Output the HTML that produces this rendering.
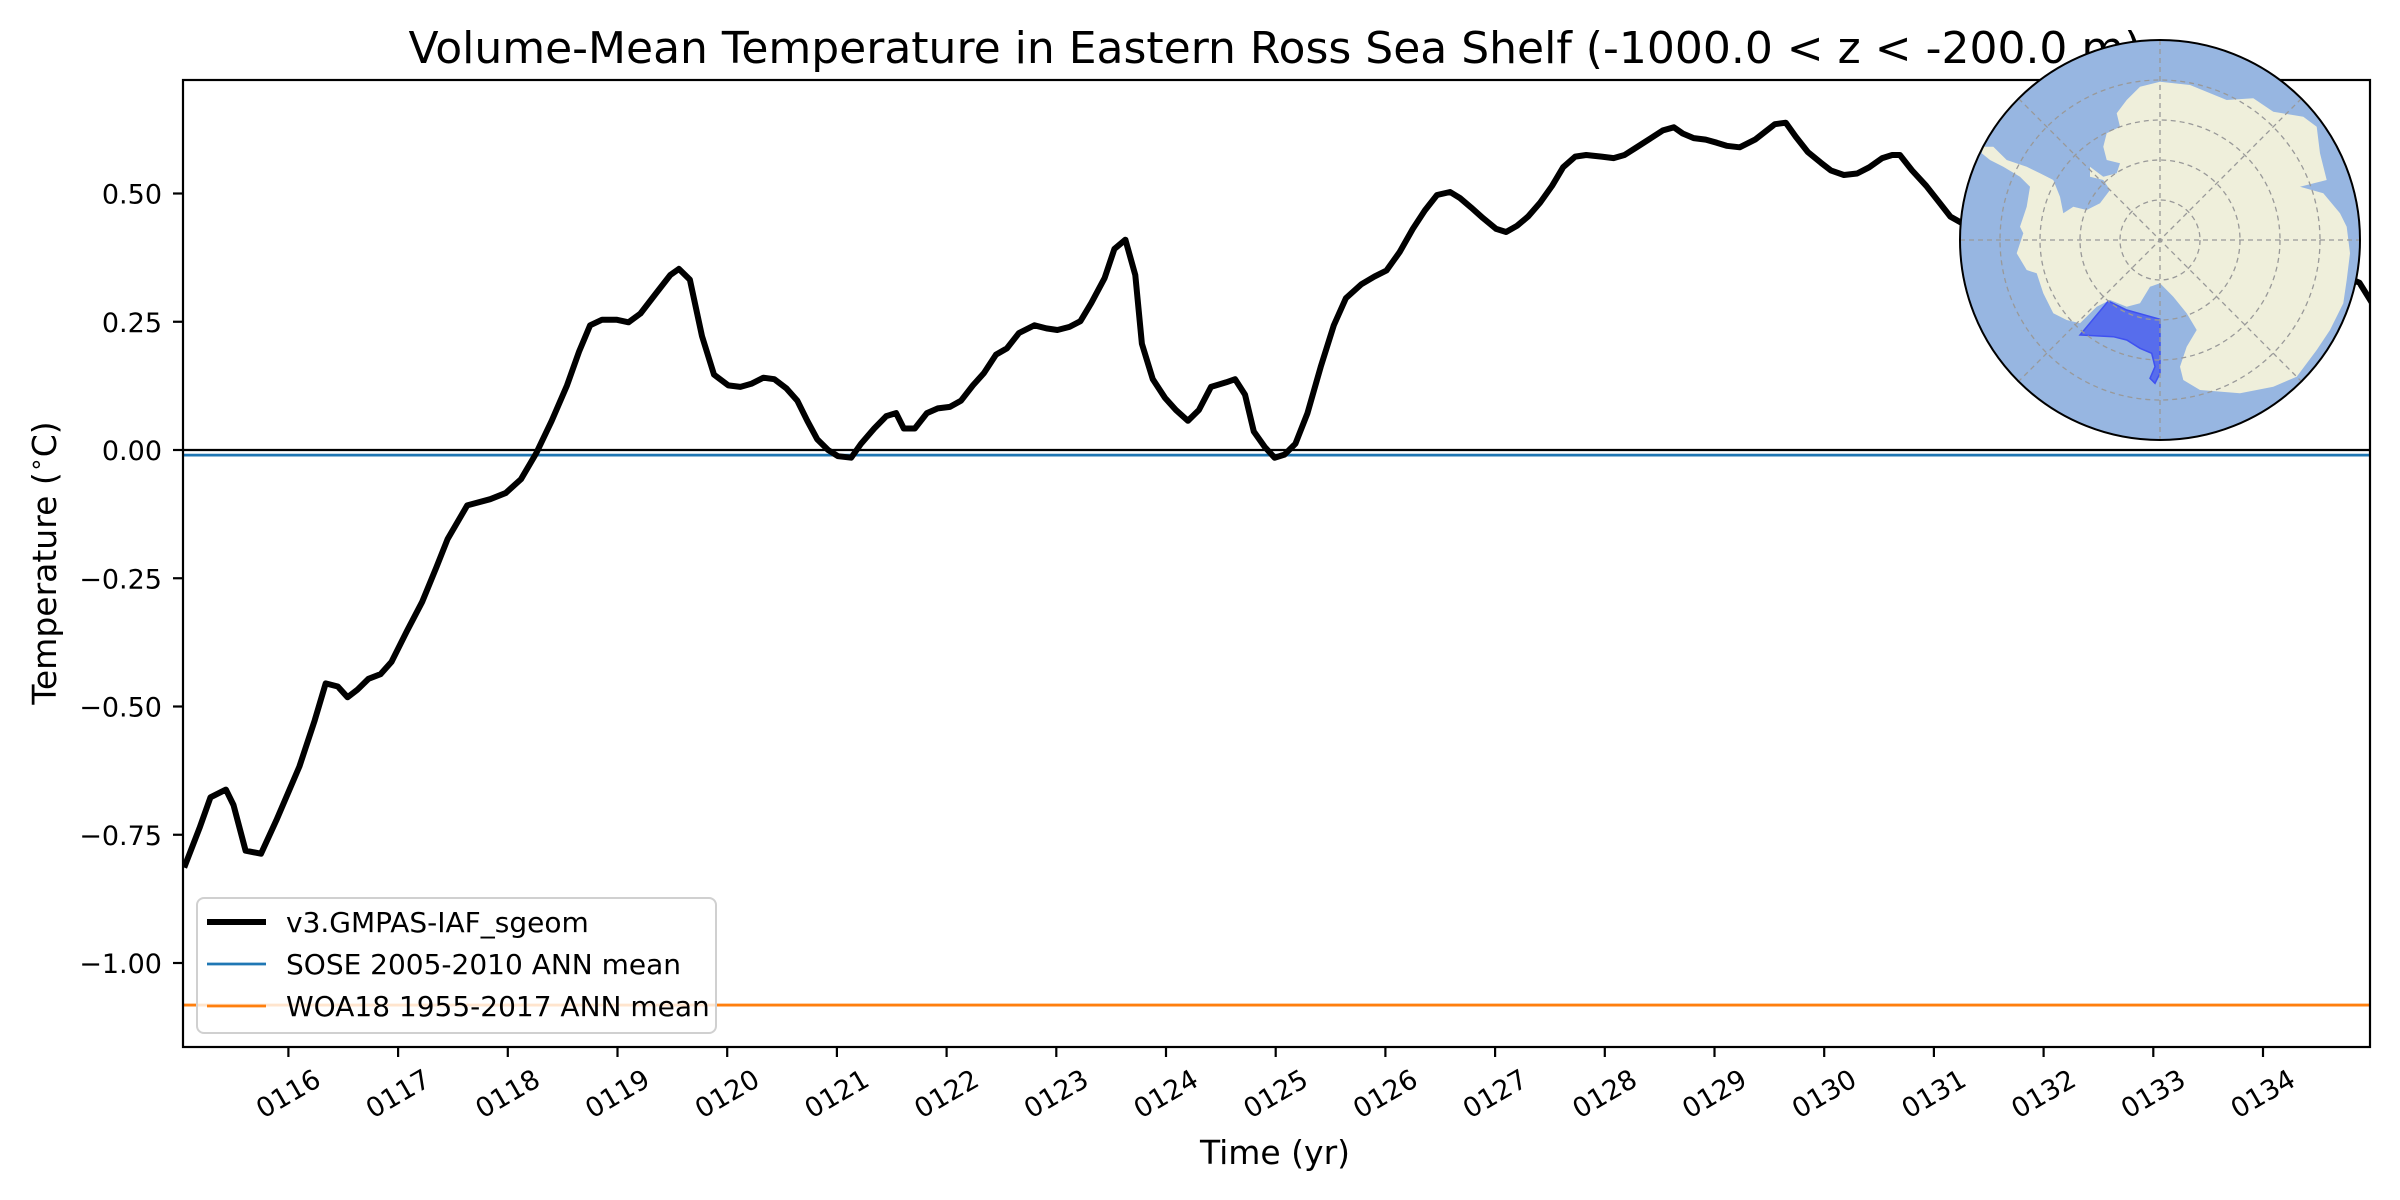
<!DOCTYPE html>
<html><head><meta charset="utf-8"><style>
html,body{margin:0;padding:0;background:#fff;}
svg{display:block;font-family:"DejaVu Sans","Liberation Sans",sans-serif;}
</style></head><body>
<svg id="chart" width="2400" height="1200" viewBox="0 0 2400 1200" xmlns="http://www.w3.org/2000/svg">
<rect x="0" y="0" width="2400" height="1200" fill="#fff"/>
<text x="1275" y="63" font-size="44" text-anchor="middle">Volume-Mean Temperature in Eastern Ross Sea Shelf (-1000.0 &lt; z &lt; -200.0 m)</text>
<g id="plot"></g>
<text x="1275" y="1164" font-size="33" text-anchor="middle">Time (yr)</text>
<text transform="translate(56,563) rotate(-90)" font-size="33" text-anchor="middle">Temperature (<tspan dy="-12" font-size="24">∘</tspan><tspan dy="12">C)</tspan></text>
</svg>
<script>
const years = [115.05,115.19,115.29,115.43,115.50,115.61,115.75,115.89,116.10,116.24,116.34,116.45,116.54,116.63,116.73,116.84,116.94,117.08,117.22,117.35,117.45,117.63,117.84,117.98,118.12,118.26,118.40,118.54,118.65,118.75,118.86,118.99,119.10,119.21,119.35,119.48,119.56,119.66,119.77,119.88,120.01,120.12,120.22,120.33,120.43,120.54,120.64,120.73,120.82,120.92,121.01,121.13,121.22,121.34,121.45,121.54,121.61,121.71,121.82,121.92,122.03,122.13,122.24,122.34,122.45,122.55,122.66,122.80,122.91,123.01,123.12,123.22,123.32,123.44,123.53,123.63,123.72,123.78,123.88,123.99,124.09,124.20,124.30,124.41,124.55,124.63,124.72,124.80,124.90,124.99,125.08,125.18,125.29,125.41,125.53,125.64,125.78,125.90,126.01,126.13,126.25,126.36,126.47,126.59,126.68,126.78,126.89,127.01,127.10,127.20,127.30,127.41,127.52,127.62,127.73,127.83,127.97,128.08,128.18,128.29,128.42,128.53,128.63,128.71,128.81,128.92,129.02,129.11,129.23,129.37,129.46,129.55,129.65,129.74,129.85,129.97,130.06,130.18,130.30,130.41,130.53,130.62,130.69,130.80,130.93,131.04,131.15,131.25,131.5,132.0,132.5,133.0,133.5,134.0,134.4,134.88,134.99];
const temps = [-0.814,-0.737,-0.677,-0.662,-0.692,-0.781,-0.787,-0.722,-0.617,-0.527,-0.455,-0.461,-0.482,-0.467,-0.446,-0.437,-0.413,-0.353,-0.296,-0.228,-0.174,-0.108,-0.096,-0.084,-0.057,-0.006,0.057,0.126,0.192,0.243,0.254,0.254,0.249,0.266,0.305,0.341,0.353,0.332,0.222,0.147,0.126,0.123,0.129,0.141,0.138,0.120,0.096,0.057,0.021,0.000,-0.012,-0.015,0.012,0.042,0.066,0.072,0.042,0.042,0.072,0.081,0.084,0.096,0.126,0.150,0.186,0.198,0.228,0.243,0.237,0.234,0.240,0.251,0.287,0.335,0.392,0.410,0.341,0.207,0.138,0.102,0.078,0.057,0.078,0.123,0.132,0.138,0.108,0.036,0.006,-0.015,-0.009,0.012,0.072,0.162,0.243,0.296,0.323,0.338,0.350,0.386,0.431,0.467,0.497,0.503,0.491,0.473,0.452,0.431,0.425,0.437,0.455,0.482,0.515,0.551,0.572,0.575,0.572,0.569,0.575,0.590,0.608,0.623,0.629,0.617,0.608,0.605,0.599,0.593,0.590,0.605,0.620,0.635,0.638,0.611,0.581,0.560,0.545,0.536,0.539,0.551,0.569,0.575,0.575,0.545,0.515,0.485,0.455,0.443,0.42,0.40,0.45,0.42,0.44,0.41,0.37,0.326,0.288];
const xTickYears = [116,117,118,119,120,121,122,123,124,125,126,127,128,129,130,131,132,133,134];
const xTickLabels = ["0116","0117","0118","0119","0120","0121","0122","0123","0124","0125","0126","0127","0128","0129","0130","0131","0132","0133","0134"];
const yTickValues = [0.5,0.25,0,-0.25,-0.5,-0.75,-1.0];
const yTickLabels = ["0.50","0.25","0.00","\u22120.25","\u22120.50","\u22120.75","\u22121.00"];
const soseMean = [-0.01];
const woaMean = [-1.082];
const zeroLine = [0];

const L=183, R=2370, T=80, B=1047;
const X = y => 1275.7 + (y-125)*109.7;
const Y = v => 450 - v*513;
const NS="http://www.w3.org/2000/svg";
const plot=document.getElementById('plot');
function mk(tag, attrs, parent){const e=document.createElementNS(NS,tag);for(const k in attrs)e.setAttribute(k,attrs[k]);(parent||plot).appendChild(e);return e;}

const defs=mk('defs',{});
const cp=mk('clipPath',{id:'clipAx'},defs);
mk('rect',{x:L,y:T,width:R-L,height:B-T},cp);
const g=mk('g',{'clip-path':'url(#clipAx)'});



const z=mk('line',{x1:L,x2:R,y1:Y(zeroLine[0]),y2:Y(zeroLine[0]),stroke:'#000','stroke-width':2.2},g);


const s=mk('line',{x1:L,x2:R,y1:Y(soseMean[0]),y2:Y(soseMean[0]),stroke:'#1f77b4','stroke-width':2.8},g);


const w=mk('line',{x1:L,x2:R,y1:Y(woaMean[0]),y2:Y(woaMean[0]),stroke:'#ff7f0e','stroke-width':2.8},g);


const pts=years.map((yr,i)=>X(yr).toFixed(1)+','+Y(temps[i]).toFixed(1)).join(' ');
const pl=mk('polyline',{points:pts,fill:'none',stroke:'#000','stroke-width':6,'stroke-linejoin':'round'},g);



// inset map
const mapG=mk('g',{});


const cx=2160, cy=240, r=200;
const mcp=mk('clipPath',{id:'clipMap'},defs);
mk('circle',{cx:cx,cy:cy,r:r},mcp);
mk('circle',{cx:cx,cy:cy,r:r,fill:'#97b6e1'},mapG);
const inner=mk('g',{'clip-path':'url(#clipMap)'},mapG);
const land=[[560,240],[600,200],[660,185],[750,195],[860,240],[940,235],[1000,275],[1090,290],[1130,320],[1140,400],[1160,480],[1080,500],[1150,520],[1200,580],[1220,620],[1230,700],[1220,780],[1210,850],[1170,930],[1130,990],[1070,1070],[1000,1100],[900,1120],[780,1110],[730,1080],[720,1040],[740,980],[770,930],[740,880],[700,830],[660,790],[630,800],[600,850],[560,860],[510,840],[470,860],[420,910],[380,900],[340,880],[310,820],[290,760],[260,750],[230,700],[250,640],[240,620],[260,560],[270,500],[240,470],[190,440],[150,420],[125,400],[130,380],[160,380],[200,420],[260,440],[300,460],[340,480],[360,530],[370,580],[400,560],[440,570],[480,550],[510,510],[490,480],[450,470],[450,440],[490,470],[530,460],[540,430],[500,420],[490,380],[500,340],[540,320],[530,280]];
const toM=p=>(1940+p[0]/3).toFixed(1)+','+(20+p[1]/3).toFixed(1);
mk('polygon',{points:land.map(toM).join(' '),fill:'#efefdb'},inner);
const ross=[[420,945],[505,843],[560,870],[660,898],[660,1060],[645,1090],[630,1075],[645,1040],[635,1000],[600,985],[560,960],[520,950]];
mk('polygon',{points:ross.map(toM).join(' '),fill:'#3f51f0','fill-opacity':0.72,stroke:'#3f51f0','stroke-width':1.5},inner);
for(const rr of [40,80,120,160,200]){mk('circle',{cx:cx,cy:cy,r:rr,fill:'none',stroke:'#999','stroke-width':1.3,'stroke-dasharray':'5,4'},inner);}
for(let a=0;a<180;a+=45){const t=a*Math.PI/180;mk('line',{x1:cx-r*Math.cos(t),y1:cy-r*Math.sin(t),x2:cx+r*Math.cos(t),y2:cy+r*Math.sin(t),stroke:'#999','stroke-width':1.3,'stroke-dasharray':'5,4'},inner);}
mk('circle',{cx:cx,cy:cy,r:r,fill:'none',stroke:'#000','stroke-width':2},mapG);

const fr=mk('rect',{x:L,y:T,width:R-L,height:B-T,fill:'none',stroke:'#000','stroke-width':2.2});


plot.appendChild(mapG);

yTickValues.forEach((v,i)=>{
  const y=Y(v);
  const t=mk('line',{x1:L-10,x2:L,y1:y,y2:y,stroke:'#000','stroke-width':2.2});
  
  
  const tx=mk('text',{x:L-21,y:y+10,'font-size':27,'text-anchor':'end'});
  tx.textContent=yTickLabels[i];
  
  
});
xTickYears.forEach((yr,i)=>{
  const x=X(yr);
  const t=mk('line',{x1:x,x2:x,y1:B,y2:B+10,stroke:'#000','stroke-width':2.2});
  
  
  const tx=mk('text',{x:0,y:0,'font-size':27,'text-anchor':'middle',transform:`translate(${x},${1094}) rotate(-30) translate(0,9)`});
  tx.textContent=xTickLabels[i];
  
  
});

const lg=mk('g',{});


mk('rect',{x:197,y:898,width:519,height:135,rx:7,fill:'#fff','fill-opacity':0.8,stroke:'#d0d0d0','stroke-width':2},lg);
const entries=[['v3.GMPAS-IAF_sgeom','#000',6,'legend-entry-model'],['SOSE 2005-2010 ANN mean','#1f77b4',2.8,'legend-entry-sose'],['WOA18 1955-2017 ANN mean','#ff7f0e',2.8,'legend-entry-woa18']];
entries.forEach((e,i)=>{
  const y=922+i*42;
  const eg=mk('g',{},lg);
  
  
  mk('line',{x1:207,x2:266,y1:y,y2:y,stroke:e[1],'stroke-width':e[2]},eg);
  const t=mk('text',{x:286,y:y+10,'font-size':28},eg);
  t.textContent=e[0];
});
</script>
</body></html>
